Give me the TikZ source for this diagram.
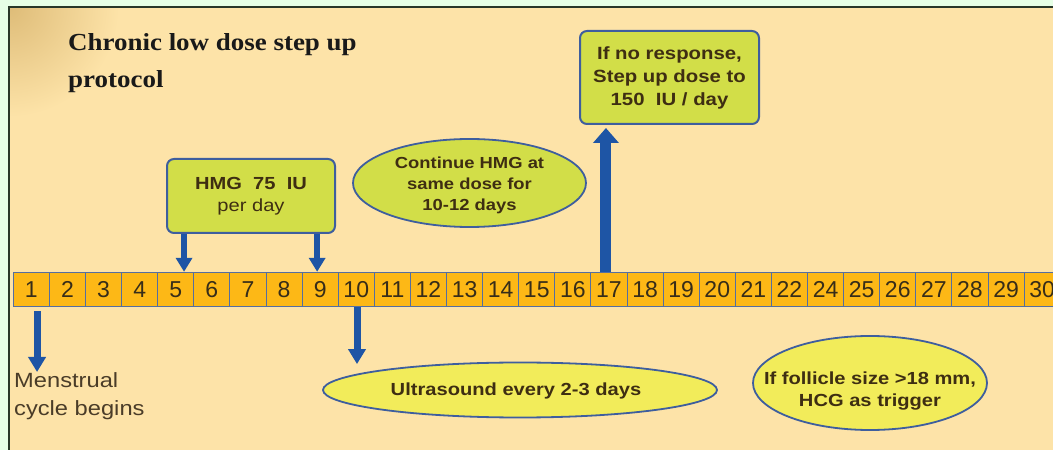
\documentclass[tikz,border=0pt]{standalone}
\usepackage{fontspec}
\newfontfamily\arialx{Liberation Sans}[FakeStretch=1.15]
\newfontfamily\arialn{Liberation Sans}
\newfontfamily\timesx{Liberation Serif}[FakeStretch=1.1]
\usetikzlibrary{shapes.geometric,arrows.meta,calc}
\definecolor{bggreen}{RGB}{230,255,230}
\definecolor{beige}{RGB}{253,227,168}
\definecolor{corner}{RGB}{222,188,120}
\definecolor{cellfill}{RGB}{253,184,22}
\definecolor{cellline}{RGB}{85,110,160}
\definecolor{boxfill}{RGB}{210,222,72}
\definecolor{ellfill}{RGB}{242,236,90}
\definecolor{edge}{RGB}{62,94,158}
\definecolor{arrowblue}{RGB}{30,85,165}
\definecolor{txt}{RGB}{62,46,18}
\definecolor{celltxt}{RGB}{55,45,25}
\definecolor{mentxt}{RGB}{74,60,40}
\definecolor{framec}{RGB}{40,55,40}
\begin{document}
\begin{tikzpicture}[x=1bp,y=-1bp,
  cell/.style={draw=cellline, line width=0.9bp, fill=cellfill, minimum width=36.1bp, minimum height=34.5bp, inner sep=0, text=celltxt, font=\arialn\fontsize{23bp}{26bp}\selectfont},
  greenbox/.style={draw=edge, line width=2bp, fill=boxfill, rounded corners=7bp, inner sep=0, align=center, text=txt},
  ell/.style={ellipse, draw=edge, line width=1.8bp, inner sep=0},
  elltext/.style={align=center, text=txt, inner sep=0, font=\arialx\bfseries\fontsize{17.5bp}{22bp}\selectfont},
  arrS/.style={arrowblue, line width=6bp, -{Triangle[width=16bp,length=14bp]}},
  arrM/.style={arrowblue, line width=7bp, -{Triangle[width=17bp,length=15bp]}},
  arrL/.style={arrowblue, line width=11bp, -{Triangle[width=25bp,length=15bp]}}
]
\useasboundingbox (0,0) rectangle (1053,450);
\fill[bggreen] (0,0) rectangle (1053,450);
\fill[beige] (9,7) rectangle (1053,450);
\begin{scope}
  \clip (9,7) rectangle (1053,450);
  \shade[inner color=corner, outer color=beige] (9,7) circle (110bp);
\end{scope}
\draw[framec, line width=1.3bp] (9,450) -- (9,7) -- (1053,7);

% title
\node[anchor=north west, align=left, inner sep=0, text=black!90,
  font=\timesx\bfseries\fontsize{24.5bp}{37bp}\selectfont] (title) at (68,33)
  {Chronic low dose step up\\protocol};

% timeline cells
\foreach \lab [count=\k from 0] in {1,2,3,4,5,6,7,8,9,10,11,12,13,14,15,16,17,18,19,20,21,22,24,25,26,27,28,29,30}
  \node[cell] (c\lab) at ({31.35+36.1*\k}, 289.5) {\lab};

% boxes
\node[greenbox, minimum width=168bp, minimum height=74bp,
  font=\arialx\fontsize{17.5bp}{22bp}\selectfont] (hmg) at (251,196)
  {{\bfseries HMG\ \ 75\ \ IU}\\per day};
\node[greenbox, minimum width=179bp, minimum height=93bp,
  font=\arialx\bfseries\fontsize{17.7bp}{23bp}\selectfont] (step) at (669.5,77.5)
  {If no response,\\Step up dose to\\150\ \ IU / day};

% ellipses
\node[ell, fill=boxfill, minimum width=233bp, minimum height=88bp] (cont) at (469.5,183) {};
\node[elltext, font=\arialx\bfseries\fontsize{16bp}{21bp}\selectfont] (conttxt) at (469.5,185)
  {Continue HMG at\\same dose for\\10-12 days};
\node[ell, fill=ellfill, minimum width=394bp, minimum height=55bp] (us) at (520,390) {};
\node[elltext] (ustxt) at (516,391) {Ultrasound every 2-3 days};
\node[ell, fill=ellfill, minimum width=234bp, minimum height=94bp] (fol) at (870,383) {};
\node[elltext] (foltxt) at (870,391) {If follicle size >18 mm,\\HCG as trigger};

% menstrual text
\node[anchor=north west, align=left, inner sep=0, text=mentxt,
  font=\arialx\fontsize{20.6bp}{28bp}\selectfont] (mens) at (14,372)
  {Menstrual\\cycle begins};

% arrows
\coordinate (t1) at ([xshift=5.7bp]c1.south);
\coordinate (t5) at ([xshift=8.3bp]c5.north);
\coordinate (t9) at ([xshift=-3bp]c9.north);
\coordinate (t10) at ([xshift=0.75bp]c10.south);
\coordinate (t17) at ([xshift=-3bp]c17.north);
\draw[arrS] (hmg.south -| t5) -- (t5);
\draw[arrS] (hmg.south -| t9) -- (t9);
\draw[arrM, shorten <=4bp] (t1) -- (t1 |- mens.north);
\draw[arrM, shorten >=-2.5bp] (t10) -- (t10 |- us.north);
\draw[arrL, shorten >=3bp] (t17) -- (step.south -| t17);
\end{tikzpicture}
\end{document}
